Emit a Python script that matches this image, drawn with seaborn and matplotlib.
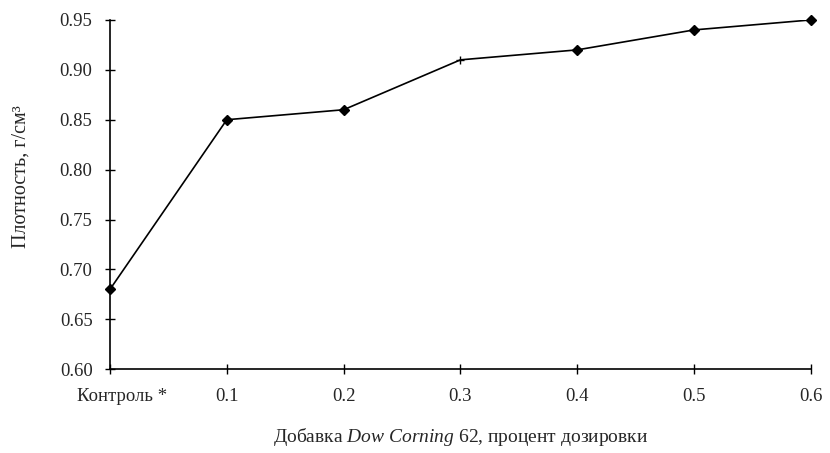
import numpy as np
import pandas as pd
import seaborn as sns
import matplotlib.pyplot as plt
import matplotlib.transforms as mtransforms

# Data
doses = ['Контроль *', '0.1', '0.2', '0.3', '0.4', '0.5', '0.6']
density = [0.68, 0.85, 0.86, 0.91, 0.92, 0.94, 0.95]
y_ticks = [0.60, 0.65, 0.70, 0.75, 0.80, 0.85, 0.90, 0.95]

sns.set_style('ticks')
plt.rcParams['font.family'] = ['Liberation Serif', 'DejaVu Serif']
plt.rcParams['mathtext.fontset'] = 'custom'
plt.rcParams['mathtext.rm'] = 'Liberation Serif'
plt.rcParams['mathtext.it'] = 'Liberation Serif:italic'

df = pd.DataFrame({'pos': np.arange(len(doses)), 'density': density})

fig = plt.figure(figsize=(8.3, 4.53), dpi=100)
ax = fig.add_axes([0.1325, 0.185, 0.8445, 0.771])

sns.lineplot(data=df, x='pos', y='density', color='black', linewidth=1.2, ax=ax)
mk = df.drop(index=3)
ax.plot(mk['pos'], mk['density'], linestyle='none', marker='D', markersize=5,
        color='black', clip_on=False, zorder=5)
ax.plot(df['pos'][3:4], df['density'][3:4], linestyle='none', marker='+',
        markersize=6, color='black', clip_on=False, zorder=5)

ax.set_xlim(0, len(doses) - 1)
ax.set_ylim(0.60, 0.95)
ax.set_xticks(df['pos'])
ax.set_xticklabels(doses)
ax.set_yticks(y_ticks)
ax.set_yticklabels([f'{v:.2f}' for v in y_ticks])
ax.tick_params(direction='inout', length=7, width=1, labelsize=13.5, color='black')
ax.tick_params(axis='x', pad=10)
ax.tick_params(axis='y', pad=9)
for s in ['top', 'right']:
    ax.spines[s].set_visible(False)
for s in ['left', 'bottom']:
    ax.spines[s].set_linewidth(1.2)
    ax.spines[s].set_color('black')

# first label sits a bit to the right of its tick
lbl = ax.get_xticklabels()[0]
lbl.set_transform(lbl.get_transform() + mtransforms.ScaledTranslation(12 / 100, 0, fig.dpi_scale_trans))

ax.set_xlabel('Добавка $\\it{Dow\\ Corning}$ 62, процент дозировки', fontsize=14, labelpad=15)
ax.set_ylabel('Плотность, г/см³', fontsize=14.5)
ax.yaxis.set_label_coords(-0.114, 0.55)

fig.savefig('out.png', dpi=100)
